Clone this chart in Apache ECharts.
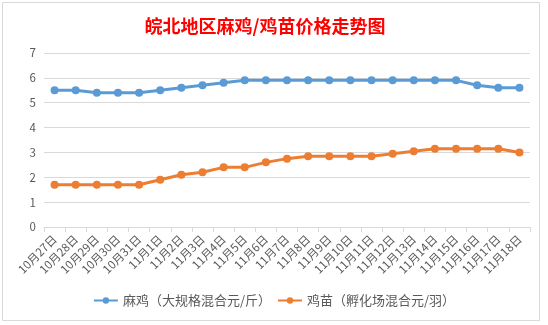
<!DOCTYPE html>
<html><head><meta charset="utf-8">
<script src="https://cdn.jsdelivr.net/npm/echarts@6/dist/echarts.min.js"></script>
<style>html,body{margin:0;padding:0;background:#fff;}#c{width:548px;height:325px;}</style>
</head><body><div id="c"></div>
<script>
const categories = ['10月27日','10月28日','10月29日','10月30日','10月31日','11月1日','11月2日','11月3日','11月4日','11月5日','11月6日','11月7日','11月8日','11月9日','11月10日','11月11日','11月12日','11月13日','11月14日','11月15日','11月16日','11月17日','11月18日'];
const majiValues = [5.5,5.5,5.4,5.4,5.4,5.5,5.6,5.7,5.8,5.9,5.9,5.9,5.9,5.9,5.9,5.9,5.9,5.9,5.9,5.9,5.7,5.6,5.6];
const jimiaoValues = [1.7,1.7,1.7,1.7,1.7,1.9,2.1,2.2,2.4,2.4,2.6,2.75,2.85,2.85,2.85,2.85,2.95,3.05,3.15,3.15,3.15,3.15,3.0];
const seriesNames = ['麻鸡（大规格混合元/斤）','鸡苗（孵化场混合元/羽）'];
const titleText = '皖北地区麻鸡/鸡苗价格走势图';

const font = '"Noto Sans CJK SC", "Microsoft YaHei", sans-serif';
const chart = echarts.init(document.getElementById('c'), null, {renderer:'canvas'});
chart.setOption({
  animation:false,
  backgroundColor:'#fff',
  textStyle:{fontFamily:font},
  graphic:[{type:'rect',shape:{x:2.5,y:2.5,width:537,height:318},style:{fill:'none',stroke:'#d9d9d9',lineWidth:1},silent:true,z:-1}],
  title:{text:titleText,left:260,textAlign:'center',top:12,textStyle:{color:'#ff0000',fontSize:18,fontWeight:'bold',fontFamily:font}},
  legend:{bottom:13,left:'center',itemWidth:24,itemHeight:8,itemGap:6,
    textStyle:{color:'#595959',fontSize:13,fontFamily:font},
    data:seriesNames},
  grid:{left:44,right:18,top:53,bottom:98},
  xAxis:{type:'category',data:categories,boundaryGap:true,
    axisLine:{lineStyle:{color:'#d9d9d9',width:1}},
    axisTick:{show:true,inside:false,length:5,lineStyle:{color:'#d9d9d9'}},
    axisLabel:{rotate:45,interval:0,color:'#595959',fontSize:11.5,margin:10,fontFamily:font}},
  yAxis:{type:'value',min:0,max:7,interval:1,
    axisLine:{show:false},axisTick:{show:false},
    axisLabel:{color:'#595959',fontSize:11.5,margin:8,fontFamily:font},
    splitLine:{lineStyle:{color:'#d9d9d9',width:1}}},
  series:[
    {name:seriesNames[0],type:'line',data:majiValues,symbol:'circle',symbolSize:8,
     lineStyle:{color:'#5B9BD5',width:3},itemStyle:{color:'#5B9BD5'}},
    {name:seriesNames[1],type:'line',data:jimiaoValues,symbol:'circle',symbolSize:8,
     lineStyle:{color:'#ED7D31',width:3},itemStyle:{color:'#ED7D31'}}
  ]
});
</script></body></html>
